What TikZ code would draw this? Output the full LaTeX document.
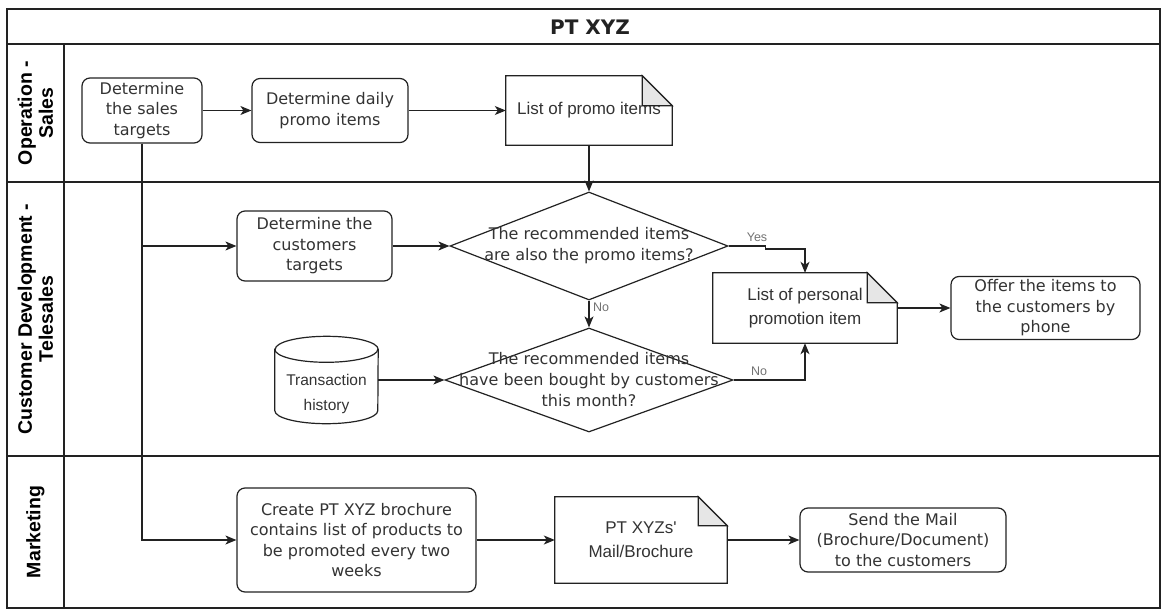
\documentclass[tikz,border=0pt]{standalone}
\usepackage{fontspec}
\setmainfont{DejaVu Sans}
\newfontfamily\lib{Liberation Sans}
\usetikzlibrary{arrows.meta,shapes.geometric}
\definecolor{ink}{HTML}{222222}
\definecolor{txt}{HTML}{333333}
\definecolor{foldc}{HTML}{E6E6E6}
\begin{document}
\begin{tikzpicture}[x=1pt,y=-1pt,
  lane/.style={line width=1.4pt, draw=ink},
  plain/.style={line width=1.2pt, draw=ink},
  conn/.style={line width=1.2pt, draw=ink, -{Stealth[length=11pt,width=9pt,inset=3pt]}},
  proc/.style={draw=ink, line width=1.2pt, rounded corners=8pt, align=center, text=txt,
    font=\fontsize{16}{20.5}\selectfont, inner sep=0pt},
  docn/.style={align=center, text=txt, font=\lib\fontsize{17}{24}\selectfont, inner sep=0pt},
  dec/.style={diamond, draw=ink, line width=1.2pt, inner sep=0pt},
  dectext/.style={align=center, text=txt, font=\fontsize{16}{21}\selectfont, inner sep=0pt},
  lanelbl/.style={rotate=90, align=center, font=\lib\bfseries\fontsize{19.5}{21}\selectfont, text=black},
  elabel/.style={text=black!55, font=\lib\fontsize{12.5}{14}\selectfont, inner sep=1pt}
]
\useasboundingbox (0,0) rectangle (1164,610);
\fill[white] (0,0) rectangle (1164,610);

% pool and lanes
\draw[lane] (7,9) rectangle (1160,608);
\draw[lane] (7,44) -- (1160,44);
\draw[lane] (7,182) -- (1160,182);
\draw[lane] (7,456) -- (1160,456);
\draw[lane] (64,44) -- (64,608);

\node[font=\bfseries\fontsize{20}{22}\selectfont, text=ink] (title) at (590,27) {PT XYZ};
\node[lanelbl] (l1) at (35.5,113) {Operation -\\Sales};
\node[lanelbl] (l2) at (35.5,319) {Customer Development -\\Telesales};
\node[lanelbl] (l3) at (35.5,532) {Marketing};

% Operation - Sales
\node[proc, minimum width=120pt, minimum height=65pt] (sales) at (142,110.5) {Determine\\the sales\\targets};
\node[proc, minimum width=156pt, minimum height=64pt] (daily) at (330,110.5) {Determine daily\\promo items};
\node[docn, minimum width=166pt, minimum height=69pt] (promo) at (589,110.5) {List of promo items};

% Customer Development - Telesales
\node[proc, minimum width=155pt, minimum height=70pt] (cust) at (314.5,246) {Determine the\\customers\\targets};
\node[dec, minimum width=278pt, minimum height=108pt] (d1) at (589,246) {};
\node[dectext] (d1t) at (d1.center) {The recommended items\\are also the promo items?};
\node[dec, minimum width=288pt, minimum height=104pt] (d2) at (589,380) {};
\node[dectext] (d2t) at (d2.center) {The recommended items\\have been bought by customers\\this month?};
\node[minimum width=103pt, minimum height=87pt, inner sep=0pt] (cyl) at (326.5,380) {};
\node[docn, font=\lib\fontsize{15.5}{25}\selectfont] (cylt) at (326.5,394) {Transaction\\history};
\node[docn, minimum width=184pt, minimum height=70pt] (pers) at (805,308) {List of personal\\promotion item};
\node[proc, minimum width=189pt, minimum height=63pt] (offer) at (1045.5,308) {Offer the items to\\the customers by\\phone};

% Marketing
\node[proc, minimum width=239pt, minimum height=104pt] (create) at (356.5,540) {Create PT XYZ brochure\\contains list of products to\\be promoted every two\\weeks};
\node[docn, minimum width=172pt, minimum height=86pt] (mail) at (641,540) {PT XYZs'\\Mail/Brochure};
\node[proc, minimum width=206pt, minimum height=64pt] (send) at (903,540) {Send the Mail\\(Brochure/Document)\\to the customers};

% document shapes
\foreach \n/\f in {promo/30,pers/30,mail/29}{
  \draw[plain] (\n.north west) -- ([xshift=-\f pt]\n.north east) -- ([yshift=-\f pt]\n.north east)
     -- (\n.south east) -- (\n.south west) -- cycle;
  \filldraw[plain, fill=foldc] ([xshift=-\f pt]\n.north east) -- ([xshift=-\f pt,yshift=-\f pt]\n.north east)
     -- ([yshift=-\f pt]\n.north east) -- cycle;
}

% cylinder
\draw[plain] ([yshift=-13pt]cyl.north west) -- ([yshift=13pt]cyl.south west)
   arc[start angle=180, end angle=360, x radius=51.5pt, y radius=13pt]
   -- ([yshift=-13pt]cyl.north east)
   arc[start angle=0, end angle=180, x radius=51.5pt, y radius=13pt] -- cycle;
\draw[plain] ([yshift=-13pt]cyl.north west)
   arc[start angle=180, end angle=360, x radius=51.5pt, y radius=13pt];

% connectors
\draw[conn] (sales) -- (daily);
\draw[conn] (daily) -- (promo);
\draw[conn] (promo.south) -- (d1.north);
\draw[conn] (sales.south) |- (cust.west);
\draw[conn] (sales.south) |- (create.west);
\draw[conn] (cust.east) -- (d1.west);
\draw[conn] (d1.south) -- (d2.north);
\node[elabel, anchor=west] (no1) at (592,307) {No};
\draw[conn] (d1.east) -- ++(37,0) -- ++(0,3) -| (pers.north);
\node[elabel] (yes) at (757,237) {Yes};
\draw[conn] (cyl.east) -- (d2.west);
\draw[conn] (d2.east) -| (pers.south);
\node[elabel] (no2) at (759,371) {No};
\draw[conn] (pers.east) -- (offer.west);
\draw[conn] (create.east) -- (mail.west);
\draw[conn] (mail.east) -- (send.west);
\end{tikzpicture}
\end{document}
